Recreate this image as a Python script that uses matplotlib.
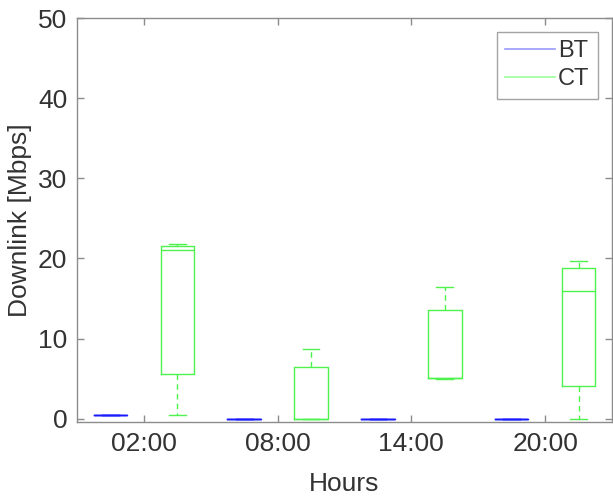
import numpy as np
import matplotlib
matplotlib.use('Agg')
import matplotlib.pyplot as plt
from matplotlib.lines import Line2D

plt.rcParams['font.family'] = ['Liberation Sans', 'DejaVu Sans']

hours = ['02:00', '08:00', '14:00', '20:00']

# BT (all essentially flat near zero)
bt_lo = [0.5, 0.0, 0.0, 0.0]
bt_q1 = [0.5, 0.0, 0.0, 0.0]
bt_med = [0.5, 0.0, 0.0, 0.0]
bt_q3 = [0.5, 0.0, 0.0, 0.0]
bt_hi = [0.5, 0.0, 0.0, 0.0]

# CT
ct_lo = [0.5, 0.0, 5.0, 0.0]
ct_q1 = [5.6, 0.0, 5.05, 4.1]
ct_med = [21.1, 0.0, 5.15, 15.9]
ct_q3 = [21.6, 6.5, 13.6, 18.8]
ct_hi = [21.8, 8.7, 16.5, 19.7]

bt_col = (0.1, 0.1, 1.0)
ct_col = (0.3, 0.95, 0.3)
txt_col = '#333333'
ax_col = '#8c8c8c'


def stats(lo, q1, med, q3, hi):
    return [dict(whislo=a, q1=b, med=c, q3=d, whishi=e, fliers=[])
            for a, b, c, d, e in zip(lo, q1, med, q3, hi)]


fig = plt.figure(figsize=(6.13, 4.96), dpi=100)
ax = fig.add_axes([77 / 613, (496 - 422) / 496, (612 - 77) / 613, (422 - 18) / 496])

x = np.arange(1, len(hours) + 1)


def draw(st, pos, col):
    ax.bxp(st, positions=pos, widths=0.25, capwidths=0.125, showfliers=False,
           boxprops=dict(color=col, linewidth=1.0),
           whiskerprops=dict(color=col, linewidth=1.0, linestyle=(0, (4, 3))),
           capprops=dict(color=col, linewidth=1.0),
           medianprops=dict(color=col, linewidth=1.0),
           manage_ticks=False)


draw(stats(bt_lo, bt_q1, bt_med, bt_q3, bt_hi), x - 0.25, bt_col)
draw(stats(ct_lo, ct_q1, ct_med, ct_q3, ct_hi), x + 0.25, ct_col)

ax.set_xlim(0.5, 4.5)
ax.set_ylim(-0.4, 50)
ax.set_xticks(x)
ax.set_xticklabels(hours)
ax.set_yticks([0, 10, 20, 30, 40, 50])

for s in ax.spines.values():
    s.set_color(ax_col)
    s.set_linewidth(1.0)
ax.tick_params(direction='in', length=5, width=1, color=ax_col, labelcolor=txt_col,
               labelsize=19, top=True, right=True, pad=7)

ax.set_xlabel('Hours', fontsize=19, color=txt_col, labelpad=12)
ax.set_ylabel('Downlink [Mbps]', fontsize=19, color=txt_col, labelpad=4)

handles = [Line2D([], [], color=(0.6, 0.6, 1.0), lw=1.2),
           Line2D([], [], color=(0.6, 1.0, 0.6), lw=1.2)]
leg = ax.legend(handles, ['BT', 'CT'], loc='upper right', fontsize=17,
                frameon=True, fancybox=False, edgecolor=ax_col,
                handlelength=2.1, handletextpad=0.15, borderpad=0.35,
                labelspacing=0.25, borderaxespad=0.6)
leg.get_frame().set_linewidth(1.0)
for t in leg.get_texts():
    t.set_color(txt_col)

fig.savefig('out.png', dpi=100)
